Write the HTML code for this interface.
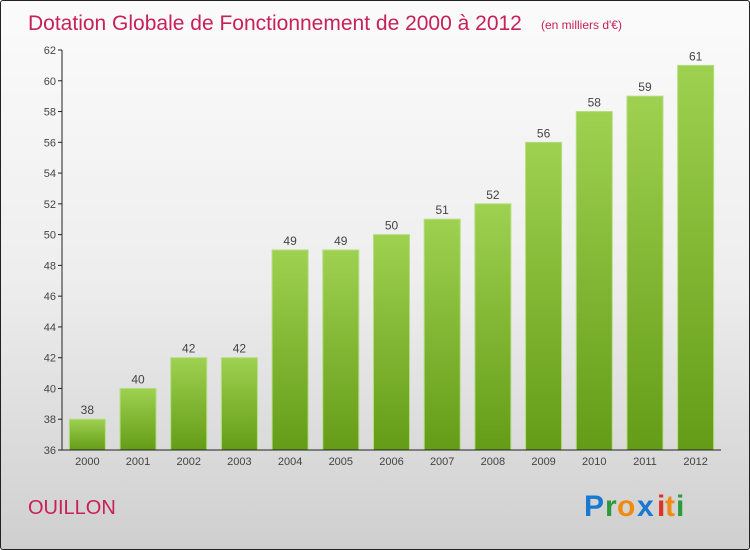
<!DOCTYPE html>
<html><head><meta charset="utf-8"><style>
html,body{margin:0;padding:0}
body{width:750px;height:550px;overflow:hidden;font-family:"Liberation Sans",sans-serif}
#wrap{position:absolute;left:0;top:0;width:748px;height:548px;border:1px solid #222;border-radius:3px;background:linear-gradient(#fbfbfb 0%,#eeeeee 50%,#cfcfcf 100%)}
</style></head><body>
<div id="wrap">
<svg width="750" height="550" style="position:absolute;left:-1px;top:-1px">
<defs><linearGradient id="bg" x1="0" y1="0" x2="0" y2="1"><stop offset="0" stop-color="#9ed150"/><stop offset="1" stop-color="#649c17"/></linearGradient></defs>
<text x="28" y="30" font-size="21" fill="#c8205a">Dotation Globale de Fonctionnement de 2000 à 2012</text>
<text x="541" y="29" font-size="12" fill="#c8205a">(en milliers d'€)</text>
<g id="plot"></g>
<text x="28" y="514" font-size="20" fill="#c8205a">OUILLON</text>
<g font-size="30" font-weight="bold" font-family="'Liberation Sans',sans-serif">
<text x="584" y="516" fill="#1a78d0">P</text><text x="605" y="516" fill="#2a9a3a">r</text><text x="617" y="516" fill="#f08a10">o</text><text x="637" y="516" fill="#1a78d0">x</text><text x="657" y="516" fill="#e03020">i</text><text x="665" y="516" fill="#f08a10">t</text><text x="676" y="516" fill="#2a9a3a">i</text>
</g>
</svg>
</div>
<script>
const categories=["2000","2001","2002","2003","2004","2005","2006","2007","2008","2009","2010","2011","2012"];
const values=[38,40,42,42,49,49,50,51,52,56,58,59,61];
const yTicks=[36,38,40,42,44,46,48,50,52,54,56,58,60,62];
const NS="http://www.w3.org/2000/svg";
const g=document.getElementById('plot');
const x0=62,x1=721,yTop=50,yBot=450,yMin=36,yMax=62;
const y=v=>yBot-(v-yMin)/(yMax-yMin)*(yBot-yTop);
const step=(x1-x0)/categories.length;
const xc=i=>x0+step*(i+0.5);
function el(t,a){const e=document.createElementNS(NS,t);for(const k in a)e.setAttribute(k,a[k]);g.appendChild(e);return e;}
yTicks.forEach(v=>{
 const t=el('line',{x1:x0-4,x2:x0,y1:y(v),y2:y(v),stroke:'#222'});
 
 
 const l=el('text',{x:x0-6,y:y(v)+4,'font-size':11,'text-anchor':'end',fill:'#444'});
 l.textContent=v;
 
 
});
values.forEach((v,i)=>{
 const w=36;
 const r=el('rect',{x:xc(i)-w/2,y:y(v),width:w,height:yBot-y(v),fill:'url(#bg)',stroke:'#b5dd80','stroke-width':1});
 
 
 const l=el('text',{x:xc(i),y:y(v)-5,'font-size':12,'text-anchor':'middle',fill:'#444'});
 l.textContent=v;
 
 
 const c=el('text',{x:xc(i),y:yBot+15,'font-size':11,'text-anchor':'middle',fill:'#444'});
 c.textContent=categories[i];
 
 
});
const ya=el('line',{x1:x0,x2:x0,y1:yTop,y2:yBot,stroke:'#222'});


const xa=el('line',{x1:x0,x2:x1,y1:yBot,y2:yBot,stroke:'#222'});


</script>
</body></html>
